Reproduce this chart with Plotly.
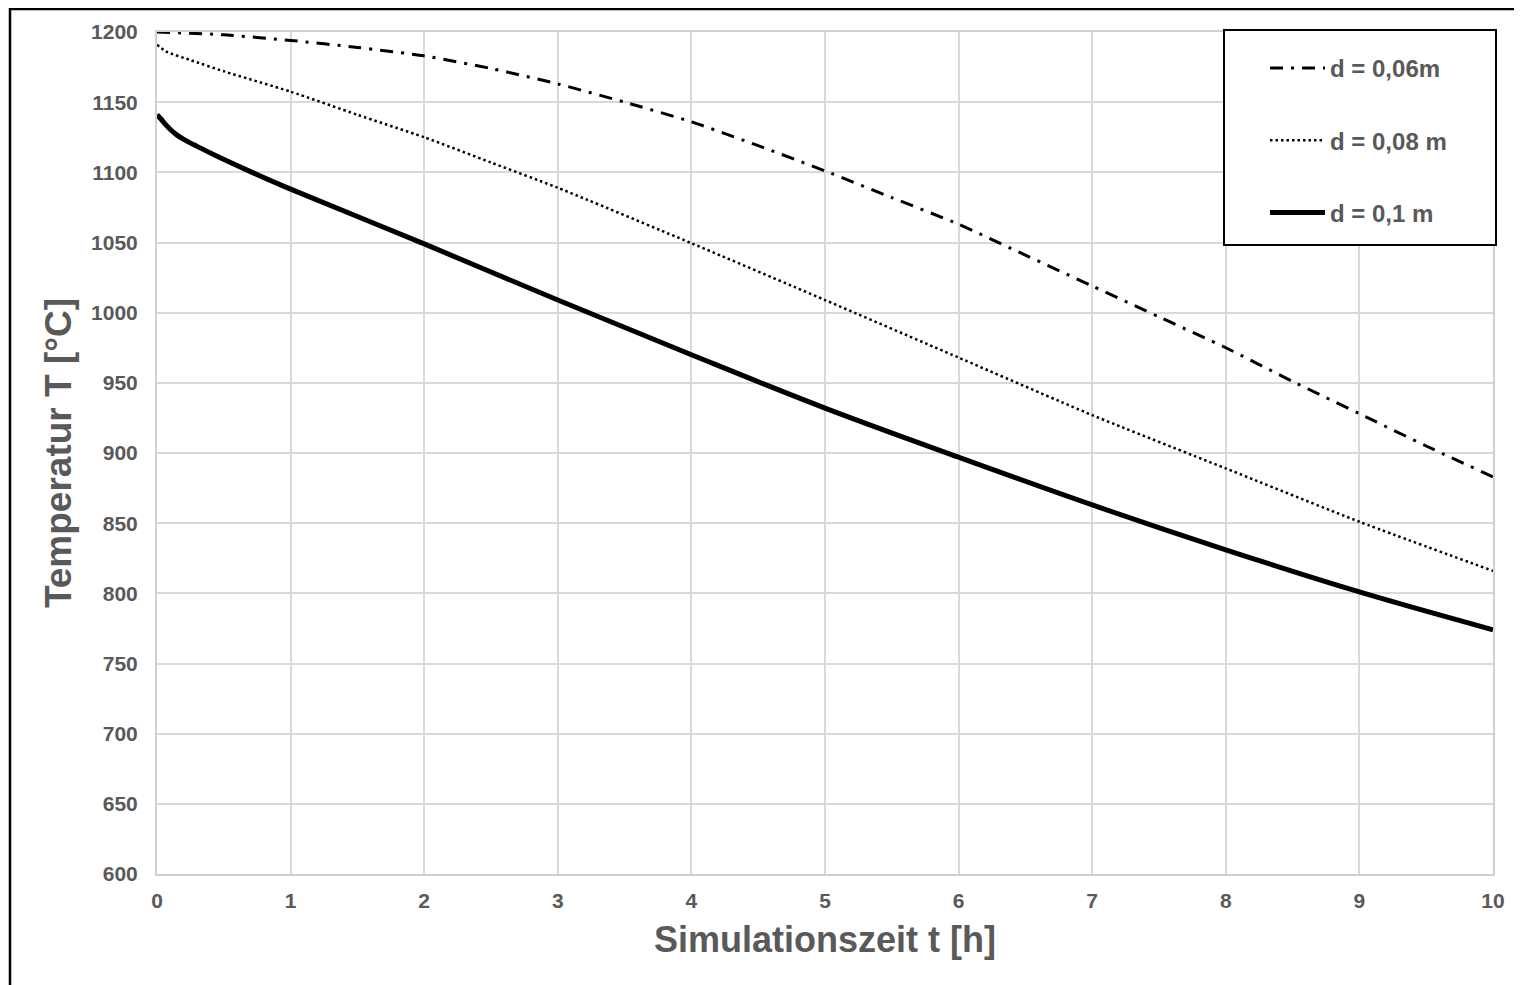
import plotly.graph_objects as go

# --- data ---
t_06 = [0, 0.5, 1, 1.5, 2, 2.5, 3, 3.5, 4, 4.5, 5, 5.5, 6, 6.5, 7, 7.5, 8, 8.5, 9, 9.5, 10]
T_06 = [1200, 1198, 1194, 1189, 1183, 1174, 1163, 1150, 1136, 1119, 1101, 1082, 1063, 1041, 1019, 997, 975, 951, 928, 905, 883]

t_08 = [0, 0.07, 0.25, 0.5, 1, 1.5, 2, 2.5, 3, 4, 5, 6, 7, 8, 9, 10]
T_08 = [1191, 1186, 1180, 1172, 1157.5, 1141, 1125, 1107, 1089, 1049.5, 1009, 968, 927, 889, 851, 816]

t_10 = [0, 0.03, 0.06, 0.1, 0.15, 0.2, 0.3, 0.45, 0.7, 1, 2, 3, 4, 5, 6, 7, 8, 9, 10]
T_10 = [1141, 1138, 1134.5, 1130.5, 1126.5, 1123.5, 1118.5, 1111.5, 1100.5, 1088, 1049, 1009, 970, 932, 897, 863, 831, 801, 774]

names = ["d = 0,06m", "d = 0,08 m", "d = 0,1 m"]

x_ticks = list(range(0, 11))
y_ticks = list(range(600, 1201, 50))

FONT = "Liberation Sans, Arial, sans-serif"
GRAY = "#595959"

fig = go.Figure()
fig.add_trace(go.Scatter(x=t_06, y=T_06, mode="lines", name=names[0], legendgroup="a",
                         line=dict(color="black", width=3, dash="13px,8px,3px,8px",
                                   shape="spline", smoothing=0.6)))
fig.add_trace(go.Scatter(x=t_08, y=T_08, mode="lines", name=names[1], legendgroup="b",
                         line=dict(color="black", width=2.5, dash="2.5px,3px",
                                   shape="spline", smoothing=0.6)))
fig.add_trace(go.Scatter(x=t_10, y=T_10, mode="lines", name=names[2], legendgroup="c",
                         line=dict(color="black", width=5, shape="spline", smoothing=1.0)))

# page has an 8px body margin; figure sized to fit the window
OFF = 8
W, H = 1514, 977
L, R, T, B = 149, 29, 24, 111
pw, ph = W - L - R, H - T - B


def px2x(p):
    """page pixel x -> paper x"""
    return (p - OFF - L) / pw


def py2y(p):
    """page pixel y -> paper y"""
    return (H - B - (p - OFF)) / ph


fig.update_layout(
    width=W, height=H,
    margin=dict(l=L, r=R, t=T, b=B),
    paper_bgcolor="white", plot_bgcolor="white",
    font=dict(family=FONT, color=GRAY),
    showlegend=True,
    legend=dict(
        x=px2x(1265), y=py2y(46), xanchor="left", yanchor="top",
        bgcolor="rgba(0,0,0,0)", borderwidth=0,
        font=dict(family=FONT, size=24, color=GRAY, weight="bold"),
        traceorder="grouped", tracegroupgap=38, itemwidth=55,
    ),
    xaxis=dict(
        range=[0, 10], tickvals=x_ticks, ticktext=[str(v) for v in x_ticks],
        showgrid=True, gridcolor="#d9d9d9", gridwidth=2,
        showline=True, linecolor="#d0d0d0", linewidth=2, mirror=True,
        zeroline=False, ticks="", ticklabelstandoff=7,
        tickfont=dict(family=FONT, size=21, color=GRAY, weight="bold"),
        title=dict(text="Simulationszeit t [h]", standoff=16,
                   font=dict(family=FONT, size=36, color=GRAY, weight="bold")),
    ),
    yaxis=dict(
        range=[600, 1200], tickvals=y_ticks, ticktext=[str(v) for v in y_ticks],
        showgrid=True, gridcolor="#d9d9d9", gridwidth=2,
        showline=True, linecolor="#d0d0d0", linewidth=2, mirror=True,
        zeroline=False, ticks="", ticklabelstandoff=13,
        tickfont=dict(family=FONT, size=21, color=GRAY, weight="bold"),
        title=dict(text="Temperatur T [°C]", standoff=8,
                   font=dict(family=FONT, size=37, color=GRAY, weight="bold")),
    ),
    shapes=[
        # outer chart frame (partly cut off in the reference)
        dict(type="rect", xref="paper", yref="paper",
             x0=px2x(10), x1=px2x(1600), y0=py2y(1100), y1=py2y(9),
             line=dict(color="black", width=2.5), fillcolor="rgba(0,0,0,0)", layer="above"),
        # legend box
        dict(type="rect", xref="paper", yref="paper",
             x0=px2x(1224), x1=px2x(1496), y0=py2y(245), y1=py2y(30),
             line=dict(color="black", width=2), fillcolor="white", layer="above"),
    ],
)

fig.write_html("out.html")
